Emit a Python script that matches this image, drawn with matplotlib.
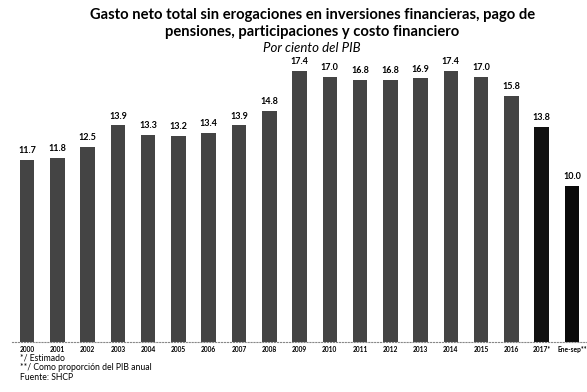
import matplotlib.pyplot as plt

# Gasto neto total sin erogaciones (por ciento del PIB)
years = ['2000', '2001', '2002', '2003', '2004', '2005', '2006', '2007', '2008',
         '2009', '2010', '2011', '2012', '2013', '2014', '2015', '2016', '2017*',
         'Ene-sep**']
values = [11.7, 11.8, 12.5, 13.9, 13.3, 13.2, 13.4, 13.9, 14.8,
          17.4, 17.0, 16.8, 16.8, 16.9, 17.4, 17.0, 15.8, 13.8, 10.0]

colors = ['#444444'] * 17 + ['#111111', '#0a0a0a']

fig = plt.figure(figsize=(5.87, 3.92), dpi=100)
ax = fig.add_axes([12 / 587, 50 / 392, 575 / 587, 287 / 392])

x = range(len(years))
ax.bar(x, values, width=0.48, color=colors, zorder=2)

# value labels on top of each bar
for i, v in enumerate(values):
    ax.text(i, v + 0.3, f'{v:.1f}', ha='center', va='bottom',
            fontsize=6.5, fontweight='bold', family='Lato')

ax.set_xlim(-0.5, len(years) - 0.5)
ax.set_ylim(0, 18.4)
ax.set_xticks(list(x))
ax.set_xticklabels(years, fontsize=4.8, fontweight='bold', family='Lato')
ax.tick_params(axis='x', length=0, pad=3)
ax.set_yticks([])
for side in ['top', 'right', 'left']:
    ax.spines[side].set_visible(False)
ax.spines['bottom'].set_linestyle(':')
ax.spines['bottom'].set_color('#888888')
ax.spines['bottom'].set_linewidth(0.8)

# title block
fig.text(0.532, 0.962, 'Gasto neto total sin erogaciones en inversiones financieras, pago de',
         ha='center', va='center', fontsize=10.6, fontweight='bold', family='Lato')
fig.text(0.532, 0.918, 'pensiones, participaciones y costo financiero',
         ha='center', va='center', fontsize=10.6, fontweight='bold', family='Lato')
fig.text(0.532, 0.878, 'Por ciento del PIB', ha='center', va='center',
         fontsize=9.5, style='italic', family='Lato')

# notes
notes = ['*/ Estimado', '**/ Como proporción del PIB anual', 'Fuente: SHCP']
for k, note in enumerate(notes):
    fig.text(20 / 587, 1 - (358 + 10 * k) / 392, note, ha='left', va='center',
             fontsize=6.2, family='Lato')

fig.savefig('out.png', dpi=100)
